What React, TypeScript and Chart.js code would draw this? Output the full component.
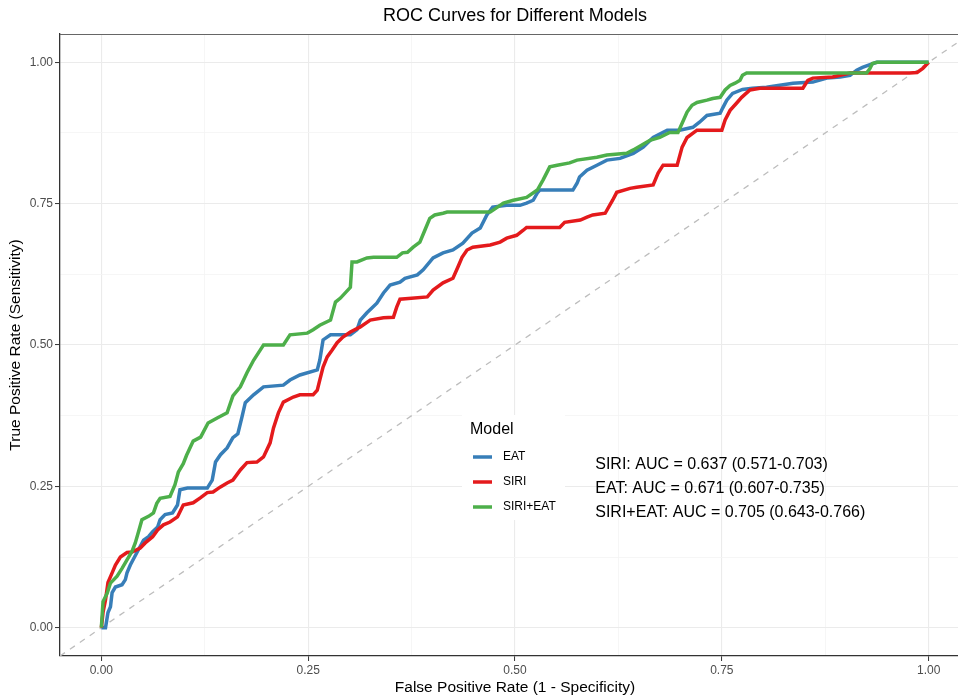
import React, { useEffect, useRef } from "react";
import { Chart, registerables } from "chart.js";

Chart.register(...registerables);

const TITLE = "ROC Curves for Different Models";
const X_TITLE = "False Positive Rate (1 - Specificity)";
const Y_TITLE = "True Positive Rate (Sensitivity)";
const LEGEND_TITLE = "Model";
const MODELS = ["EAT", "SIRI", "SIRI+EAT"];
const COLORS = ["#377EB8", "#E41A1C", "#4DAF4A"];
const AUC_LABELS = [
  "SIRI: AUC = 0.637 (0.571-0.703)",
  "EAT: AUC = 0.671 (0.607-0.735)",
  "SIRI+EAT: AUC = 0.705 (0.643-0.766)",
];
const AUC_LABEL_X = 0.597;
const AUC_LABEL_Y = [0.288, 0.246, 0.204];
const MAJOR_TICKS = [0, 0.25, 0.5, 0.75, 1];
const MINOR_TICKS = [0.125, 0.375, 0.625, 0.875];

// [fpr, tpr]
const EAT_ROC = [
  [0, 0], [0.005, 0], [0.008, 0.027], [0.011, 0.037], [0.013, 0.062], [0.017, 0.072],
  [0.025, 0.076], [0.029, 0.085], [0.031, 0.097], [0.035, 0.111], [0.043, 0.133],
  [0.051, 0.155], [0.057, 0.161], [0.062, 0.17], [0.068, 0.178], [0.071, 0.191],
  [0.077, 0.2], [0.086, 0.203], [0.092, 0.217], [0.095, 0.244], [0.104, 0.247],
  [0.128, 0.247], [0.134, 0.261], [0.138, 0.293], [0.144, 0.306], [0.152, 0.318],
  [0.159, 0.336], [0.165, 0.343], [0.17, 0.373], [0.174, 0.398], [0.184, 0.412],
  [0.196, 0.426], [0.22, 0.429], [0.228, 0.438], [0.24, 0.447], [0.261, 0.456],
  [0.264, 0.473], [0.267, 0.5], [0.268, 0.509], [0.277, 0.518], [0.301, 0.518],
  [0.309, 0.527], [0.313, 0.544], [0.321, 0.557], [0.333, 0.574], [0.341, 0.592],
  [0.349, 0.606], [0.361, 0.611], [0.367, 0.618], [0.382, 0.624], [0.389, 0.633],
  [0.401, 0.654], [0.413, 0.663], [0.425, 0.668], [0.437, 0.68], [0.448, 0.698],
  [0.458, 0.707], [0.466, 0.73], [0.473, 0.744], [0.49, 0.747], [0.506, 0.747],
  [0.514, 0.751], [0.522, 0.756], [0.527, 0.769], [0.53, 0.774], [0.57, 0.774],
  [0.575, 0.786], [0.578, 0.797], [0.587, 0.809], [0.599, 0.818], [0.611, 0.827],
  [0.627, 0.83], [0.643, 0.839], [0.655, 0.85], [0.667, 0.867], [0.684, 0.88],
  [0.699, 0.88], [0.715, 0.885], [0.723, 0.894], [0.732, 0.906], [0.748, 0.91],
  [0.751, 0.919], [0.756, 0.933], [0.763, 0.945], [0.775, 0.952], [0.787, 0.954],
  [0.804, 0.956], [0.836, 0.963], [0.86, 0.965], [0.877, 0.972], [0.893, 0.974],
  [0.905, 0.977], [0.913, 0.986], [0.92, 0.991], [0.937, 1], [1, 1],
];

const SIRI_ROC = [
  [0, 0], [0.002, 0.027], [0.005, 0.049], [0.008, 0.08], [0.013, 0.097], [0.017, 0.111],
  [0.023, 0.125], [0.031, 0.133], [0.037, 0.134], [0.047, 0.141], [0.053, 0.15],
  [0.062, 0.161], [0.068, 0.173], [0.075, 0.182], [0.083, 0.187], [0.092, 0.196],
  [0.099, 0.217], [0.111, 0.221], [0.12, 0.23], [0.128, 0.239], [0.135, 0.24],
  [0.144, 0.249], [0.152, 0.256], [0.159, 0.261], [0.168, 0.279], [0.176, 0.292],
  [0.188, 0.293], [0.196, 0.302], [0.204, 0.327], [0.208, 0.353], [0.214, 0.38],
  [0.22, 0.399], [0.232, 0.408], [0.24, 0.412], [0.256, 0.412], [0.261, 0.42],
  [0.264, 0.438], [0.268, 0.461], [0.273, 0.479], [0.279, 0.491], [0.285, 0.504],
  [0.292, 0.514], [0.301, 0.523], [0.313, 0.532], [0.325, 0.544], [0.341, 0.548],
  [0.353, 0.549], [0.357, 0.567], [0.361, 0.581], [0.394, 0.585], [0.401, 0.597],
  [0.413, 0.61], [0.425, 0.618], [0.431, 0.638], [0.436, 0.655], [0.442, 0.668],
  [0.449, 0.673], [0.47, 0.677], [0.482, 0.682], [0.49, 0.689], [0.502, 0.694],
  [0.51, 0.703], [0.514, 0.708], [0.554, 0.708], [0.56, 0.717], [0.579, 0.721],
  [0.587, 0.726], [0.594, 0.73], [0.609, 0.733], [0.618, 0.756], [0.623, 0.77],
  [0.639, 0.777], [0.647, 0.779], [0.667, 0.783], [0.673, 0.804], [0.679, 0.818],
  [0.696, 0.818], [0.702, 0.85], [0.708, 0.867], [0.72, 0.88], [0.75, 0.88],
  [0.754, 0.898], [0.76, 0.915], [0.768, 0.928], [0.774, 0.938], [0.784, 0.951],
  [0.796, 0.954], [0.848, 0.954], [0.854, 0.968], [0.86, 0.972], [0.884, 0.974],
  [0.905, 0.981], [0.977, 0.981], [0.986, 0.982], [0.993, 0.989], [1, 1],
];

const COMBINED_ROC = [
  [0, 0], [0.002, 0.046], [0.007, 0.061], [0.011, 0.079], [0.019, 0.091], [0.025, 0.105],
  [0.031, 0.12], [0.037, 0.135], [0.041, 0.15], [0.045, 0.17], [0.049, 0.191],
  [0.057, 0.197], [0.063, 0.203], [0.067, 0.22], [0.071, 0.229], [0.083, 0.232],
  [0.089, 0.253], [0.093, 0.275], [0.099, 0.29], [0.103, 0.305], [0.111, 0.33],
  [0.12, 0.337], [0.129, 0.362], [0.14, 0.371], [0.152, 0.38], [0.159, 0.41],
  [0.168, 0.426], [0.176, 0.451], [0.184, 0.473], [0.192, 0.491], [0.196, 0.5],
  [0.22, 0.5], [0.228, 0.518], [0.249, 0.521], [0.256, 0.527], [0.264, 0.535],
  [0.277, 0.544], [0.283, 0.576], [0.289, 0.583], [0.301, 0.602], [0.303, 0.647],
  [0.309, 0.647], [0.321, 0.654], [0.329, 0.655], [0.357, 0.655], [0.364, 0.663],
  [0.37, 0.664], [0.377, 0.673], [0.385, 0.682], [0.391, 0.703], [0.397, 0.724],
  [0.403, 0.73], [0.413, 0.733], [0.418, 0.735], [0.47, 0.735], [0.486, 0.751],
  [0.498, 0.756], [0.514, 0.761], [0.527, 0.774], [0.534, 0.792], [0.542, 0.815],
  [0.551, 0.818], [0.566, 0.822], [0.575, 0.827], [0.599, 0.832], [0.611, 0.836],
  [0.635, 0.839], [0.643, 0.845], [0.663, 0.862], [0.675, 0.867], [0.687, 0.876],
  [0.697, 0.876], [0.702, 0.892], [0.708, 0.912], [0.714, 0.924], [0.72, 0.929],
  [0.732, 0.933], [0.739, 0.936], [0.748, 0.938], [0.754, 0.951], [0.76, 0.959],
  [0.766, 0.963], [0.772, 0.968], [0.775, 0.977], [0.78, 0.981], [0.925, 0.981],
  [0.929, 0.989], [0.932, 0.998], [0.938, 1], [1, 1],
];

const DIAGONAL = [[-0.05, -0.05], [1.05, 1.05]];

const FONT = "'Liberation Sans', Arial, Helvetica, sans-serif";
const CANVAS_W = 975;
const CANVAS_H = 698;

const toPoints = (arr: number[][]) => arr.map(([x, y]) => ({ x, y }));

const decorPlugin = {
  id: "decor",
  afterDraw(chart: any) {
    const { ctx, chartArea } = chart;
    const { left, top, right, bottom } = chartArea;
    ctx.save();
    // panel border (top/right)
    ctx.strokeStyle = "#666666";
    ctx.lineWidth = 1;
    ctx.beginPath();
    ctx.moveTo(left, top + 0.5);
    ctx.lineTo(right, top + 0.5);
    ctx.moveTo(right - 0.5, top);
    ctx.lineTo(right - 0.5, bottom);
    ctx.stroke();

    // title
    ctx.fillStyle = "#000000";
    ctx.font = `18px ${FONT}`;
    ctx.textAlign = "center";
    ctx.textBaseline = "middle";
    ctx.fillText(TITLE, (left + right) / 2, 16);

    // legend box
    const lx = 462, ly = 415, lw = 103, lh = 105;
    ctx.fillStyle = "#ffffff";
    ctx.fillRect(lx, ly, lw, lh);
    ctx.fillStyle = "#000000";
    ctx.textAlign = "left";
    ctx.font = `16px ${FONT}`;
    ctx.fillText(LEGEND_TITLE, 470, 430);
    MODELS.forEach((m, i) => {
      const y = 457 + i * 25;
      ctx.strokeStyle = COLORS[i];
      ctx.lineWidth = 3.5;
      ctx.beginPath();
      ctx.moveTo(473, y);
      ctx.lineTo(492, y);
      ctx.stroke();
      ctx.fillStyle = "#000000";
      ctx.font = `12px ${FONT}`;
      ctx.fillText(m, 503, y);
    });

    // AUC annotations
    const xs = chart.scales.x;
    const ys = chart.scales.y;
    ctx.font = `16px ${FONT}`;
    ctx.fillStyle = "#000000";
    AUC_LABELS.forEach((t, i) => {
      ctx.fillText(t, xs.getPixelForValue(AUC_LABEL_X), ys.getPixelForValue(AUC_LABEL_Y[i]));
    });
    ctx.restore();
  },
};

const allTicks = [...MAJOR_TICKS, ...MINOR_TICKS].sort((a, b) => a - b);
const isMajor = (v: number) => MAJOR_TICKS.some((m) => Math.abs(m - v) < 1e-9);

export default function App() {
  const canvasRef = useRef<HTMLCanvasElement | null>(null);

  useEffect(() => {
    if (!canvasRef.current) return;
    const gridOpts = {
      color: (c: any) => (c.tick && isMajor(c.tick.value) ? "#EBEBEB" : "#F4F4F4"),
      lineWidth: (c: any) => (c.tick && isMajor(c.tick.value) ? 1.1 : 0.8),
      tickColor: (c: any) => (c.tick && isMajor(c.tick.value) ? "#333333" : "rgba(0,0,0,0)"),
      tickLength: 5,
      tickWidth: 1,
      drawTicks: true,
    };
    const tickFont = { family: FONT, size: 12 };
    const lineDs = (label: string, data: number[][], color: string, order: number) => ({
      label,
      data: toPoints(data),
      borderColor: color,
      borderWidth: 3.5,
      pointRadius: 0,
      tension: 0,
      fill: false,
      order,
    });
    const chart = new Chart(canvasRef.current, {
      type: "line",
      data: {
        datasets: [
          lineDs(MODELS[2], COMBINED_ROC, COLORS[2], 0),
          lineDs(MODELS[1], SIRI_ROC, COLORS[1], 1),
          lineDs(MODELS[0], EAT_ROC, COLORS[0], 2),
          {
            label: "diag",
            data: toPoints(DIAGONAL),
            borderColor: "#BDBDBD",
            borderWidth: 1.3,
            borderDash: [6, 6],
            pointRadius: 0,
            fill: false,
            order: 3,
          },
        ],
      },
      options: {
        responsive: false,
        animation: false,
        devicePixelRatio: 1,
        layout: { padding: { top: 34, right: 5, left: 0, bottom: 0 } },
        plugins: {
          legend: { display: false },
          title: { display: false },
          tooltip: { enabled: false },
        },
        scales: {
          x: {
            type: "linear",
            min: -0.05,
            max: 1.05,
            afterBuildTicks: (s: any) => {
              s.ticks = allTicks.map((v) => ({ value: v }));
            },
            afterFit: (s: any) => {
              s.height = 42;
            },
            grid: gridOpts,
            border: { display: true, color: "#333333", width: 1.3 },
            ticks: {
              autoSkip: false,
              maxRotation: 0,
              padding: 2,
              color: "#4D4D4D",
              font: tickFont,
              callback: (v: any) => (isMajor(Number(v)) ? Number(v).toFixed(2) : ""),
            },
            title: {
              display: true,
              text: X_TITLE,
              color: "#000000",
              font: { family: FONT, size: 15.5 },
              padding: { top: 0, bottom: 1 },
            },
          },
          y: {
            type: "linear",
            min: -0.05,
            max: 1.05,
            afterBuildTicks: (s: any) => {
              s.ticks = allTicks.map((v) => ({ value: v }));
            },
            afterFit: (s: any) => {
              s.width = 60;
            },
            grid: gridOpts,
            border: { display: true, color: "#333333", width: 1.3 },
            ticks: {
              autoSkip: false,
              padding: 2,
              color: "#4D4D4D",
              font: tickFont,
              callback: (v: any) => (isMajor(Number(v)) ? Number(v).toFixed(2) : ""),
            },
            title: {
              display: true,
              text: Y_TITLE,
              color: "#000000",
              font: { family: FONT, size: 15.5 },
              padding: { top: 6, bottom: 0 },
            },
          },
        },
      },
      plugins: [decorPlugin],
    });
    return () => chart.destroy();
  }, []);

  return (
    <div
      style={{
        position: "fixed",
        left: 0,
        top: 0,
        width: 958,
        height: 698,
        overflow: "hidden",
        background: "#ffffff",
      }}
    >
      <canvas
        ref={canvasRef}
        width={CANVAS_W}
        height={CANVAS_H}
        style={{ display: "block", width: CANVAS_W, height: CANVAS_H }}
      />
    </div>
  );
}
